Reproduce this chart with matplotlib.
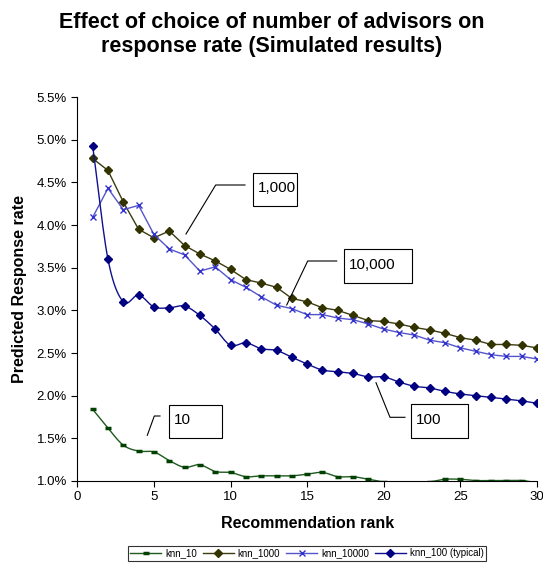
import numpy as np
import matplotlib
matplotlib.use('Agg')
import matplotlib.pyplot as plt
from matplotlib.ticker import FuncFormatter

plt.rcParams['font.family'] = ['Liberation Sans', 'DejaVu Sans']

# datos (tasa de respuesta en %)
rango = list(range(1, 31))
knn_10 = [1.84, 1.62, 1.42, 1.35, 1.34, 1.24, 1.16, 1.19, 1.11, 1.10,
          1.05, 1.06, 1.06, 1.06, 1.08, 1.10, 1.05, 1.05, 1.02, 0.99,
          0.98, 0.98, 0.99, 1.02, 1.02, 1.005, 1.005, 1.005, 1.005, 0.98]
knn_1000 = [4.78, 4.64, 4.27, 3.95, 3.85, 3.93, 3.76, 3.66, 3.58, 3.48,
            3.36, 3.32, 3.27, 3.14, 3.10, 3.03, 3.00, 2.94, 2.88, 2.87,
            2.84, 2.80, 2.77, 2.73, 2.68, 2.65, 2.60, 2.60, 2.59, 2.56]
knn_10000 = [4.09, 4.43, 4.18, 4.23, 3.89, 3.72, 3.65, 3.46, 3.51, 3.36,
             3.27, 3.16, 3.06, 3.02, 2.95, 2.95, 2.91, 2.89, 2.84, 2.78,
             2.74, 2.71, 2.65, 2.62, 2.56, 2.52, 2.48, 2.46, 2.46, 2.43]
knn_100 = [4.93, 3.60, 3.10, 3.18, 3.04, 3.03, 3.05, 2.94, 2.78, 2.59,
           2.62, 2.55, 2.53, 2.45, 2.37, 2.30, 2.28, 2.26, 2.22, 2.22,
           2.16, 2.11, 2.09, 2.05, 2.02, 2.00, 1.98, 1.96, 1.94, 1.91]

titulo = 'Effect of choice of number of advisors on\nresponse rate (Simulated results)'


def suavizar(x, y, n=12):
    """Curva Catmull-Rom como la linea suavizada de Excel."""
    x = np.asarray(x, float)
    y = np.asarray(y, float)
    px = np.concatenate([[2 * x[0] - x[1]], x, [2 * x[-1] - x[-2]]])
    py = np.concatenate([[2 * y[0] - y[1]], y, [2 * y[-1] - y[-2]]])
    xs, ys = [], []
    for i in range(1, len(px) - 2):
        t = np.linspace(0, 1, n, endpoint=False)
        for p, out in ((px, xs), (py, ys)):
            p0, p1, p2, p3 = p[i - 1], p[i], p[i + 1], p[i + 2]
            out.extend(0.5 * (2 * p1 + (-p0 + p2) * t
                              + (2 * p0 - 5 * p1 + 4 * p2 - p3) * t ** 2
                              + (-p0 + 3 * p1 - 3 * p2 + p3) * t ** 3))
    xs.append(x[-1])
    ys.append(y[-1])
    marcas = list(range(0, len(xs), n))
    return np.array(xs), np.array(ys), marcas


fig = plt.figure(figsize=(5.43, 5.73), dpi=100)
ax = fig.add_axes([0.1424, 0.1606, 0.8466, 0.670])

# knn_10 (linea suavizada)
xs, ys, m = suavizar(rango, knn_10)
ax.plot(xs, ys, color='#1f5a1f', lw=1.0, marker='_', markevery=m,
        ms=5, mew=2.5, mec='#004000', label='knn_10')

# knn_1000
ax.plot(rango, knn_1000, color='#3c3c10', lw=1.0, marker='D', ms=4.5,
        mfc='#333300', mec='#333300', label='knn_1000')

# knn_10000
ax.plot(rango, knn_10000, color='#5555cc', lw=1.0, marker='x', ms=4,
        mew=1.0, mec='#3333cc', label='knn_10000')

# knn_100 (suavizada)
xs, ys, m = suavizar(rango, knn_100)
ax.plot(xs, ys, color='#101090', lw=1.0, marker='D', markevery=m, ms=4.5,
        mfc='#000080', mec='#000080', label='knn_100 (typical)')

ax.set_xlim(0, 30)
ax.set_ylim(1.0, 5.5)
ax.set_xticks(range(0, 31, 5))
ax.set_yticks(np.arange(1.0, 5.51, 0.5))
ax.yaxis.set_major_formatter(FuncFormatter(lambda v, p: f'{v:.1f}%'))
ax.spines['top'].set_visible(False)
ax.spines['right'].set_visible(False)
ax.tick_params(direction='out', length=4, width=0.8, labelsize=9.5)
ax.set_xlabel('Recommendation rank', fontsize=11.5, fontweight='bold', labelpad=9)
ax.set_ylabel('Predicted Response rate', fontsize=11.5, fontweight='bold', labelpad=7)

fig.text(0.5, 1 - 12 / 573, titulo, ha='center', va='top', fontsize=15.5,
         fontweight='bold', linespacing=1.2)

# cuadros de texto con linea guia (coordenadas de figura en pixeles)
def px(x, y):
    return x / 543, 1 - y / 573

etiquetas = [
    ('1,000', (252.7, 172.7, 297.3, 206), [(245, 185), (215.7, 185), (186, 234)]),
    ('10,000', (344.3, 249.3, 411.7, 282.7), [(336.7, 261), (307.7, 261), (286.7, 305)]),
    ('100', (411, 404.3, 468.3, 438.3), [(405, 417.3), (390, 417.3), (376, 382.7)]),
    ('10', (169.3, 404.7, 222, 438), [(160, 416), (154.3, 416), (147.3, 435.3)]),
]
for texto, (x0, y0, x1, y1), guia in etiquetas:
    a0 = px(x0, y1)
    a1 = px(x1, y0)
    fig.patches.append(plt.Rectangle(a0, a1[0] - a0[0], a1[1] - a0[1],
                                     transform=fig.transFigure, fill=True,
                                     fc='white', ec='black', lw=0.8, zorder=5))
    tx, ty = px(x0 + 5, (y0 + y1) / 2 - 1)
    fig.text(tx, ty, texto, ha='left', va='center', fontsize=11, zorder=6)
    gx = [px(*p)[0] for p in guia]
    gy = [px(*p)[1] for p in guia]
    fig.add_artist(plt.Line2D(gx, gy, color='black', lw=0.8,
                              transform=fig.transFigure))

leg = fig.legend(loc='center', bbox_to_anchor=(307 / 543, 1 - 553.5 / 573),
                 ncol=4, fontsize=7, frameon=True, fancybox=False,
                 edgecolor='black', handlelength=3.2, handletextpad=0.4,
                 columnspacing=0.6, borderpad=0.25)
leg.get_frame().set_linewidth(0.8)

fig.savefig('out.png', dpi=100)
